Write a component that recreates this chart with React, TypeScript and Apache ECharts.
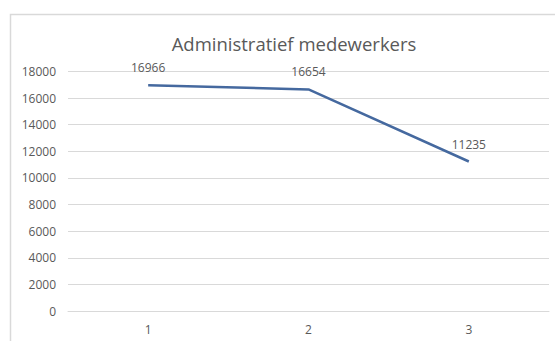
import React, { useEffect, useRef } from "react";
import * as echarts from "echarts";

const categories: string[] = ["1", "2", "3"];
const values: number[] = [16966, 16654, 11235];
const yTicks: number[] = [0, 2000, 4000, 6000, 8000, 10000, 12000, 14000, 16000, 18000];
const titleText = "Administratief medewerkers";

const FONT = "'Open Sans', 'Liberation Sans', sans-serif";
const TEXT_GRAY = "#595959";
const GRID_GRAY = "#d9d9d9";
const LINE_BLUE = "#45699f";

export default function App() {
  const ref = useRef<HTMLDivElement>(null);

  useEffect(() => {
    if (!ref.current) return;
    const chart = echarts.init(ref.current, undefined, { renderer: "svg" });
    chart.setOption({
      animation: false,
      backgroundColor: "#ffffff",
      textStyle: { fontFamily: FONT },
      title: {
        text: titleText,
        left: 289,
        top: 29,
        textAlign: "center",
        textStyle: {
          fontFamily: FONT,
          fontSize: 18.5,
          fontWeight: "normal",
          color: TEXT_GRAY,
        },
      },
      graphic: [
        {
          type: "rect",
          shape: { x: 10.5, y: 14.5, width: 600, height: 400 },
          style: { fill: "none", stroke: GRID_GRAY, lineWidth: 1.5 },
          silent: true,
          z: -1,
        },
      ],
      grid: {
        left: 68,
        right: 6,
        top: 71.5,
        bottom: 30,
        containLabel: false,
      },
      xAxis: {
        type: "category",
        data: categories,
        boundaryGap: true,
        axisLine: { show: true, lineStyle: { color: GRID_GRAY, width: 1 } },
        axisTick: { show: false },
        axisLabel: {
          color: TEXT_GRAY,
          fontFamily: FONT,
          fontSize: 12,
          margin: 12,
        },
      },
      yAxis: {
        type: "value",
        min: yTicks[0],
        max: yTicks[yTicks.length - 1],
        interval: yTicks[1] - yTicks[0],
        axisLine: { show: false },
        axisTick: { show: false },
        splitLine: { show: true, lineStyle: { color: GRID_GRAY, width: 1 } },
        axisLabel: {
          color: TEXT_GRAY,
          fontFamily: FONT,
          fontSize: 12,
          margin: 12,
          formatter: (v: number) => String(v),
        },
      },
      series: [
        {
          type: "line",
          data: values,
          symbol: "circle",
          symbolSize: 1,
          showSymbol: true,
          itemStyle: { color: "rgba(0,0,0,0)", borderWidth: 0 },
          lineStyle: { color: LINE_BLUE, width: 2.5 },
          label: {
            show: true,
            position: "top",
            distance: 11,
            color: TEXT_GRAY,
            fontFamily: FONT,
            fontSize: 12,
            formatter: (p: { value: number }) => String(p.value),
          },
        },
      ],
    });
    return () => chart.dispose();
  }, []);

  return (
    <div
      ref={ref}
      style={{ position: "fixed", left: 0, top: 0, width: 555, height: 341 }}
    />
  );
}
